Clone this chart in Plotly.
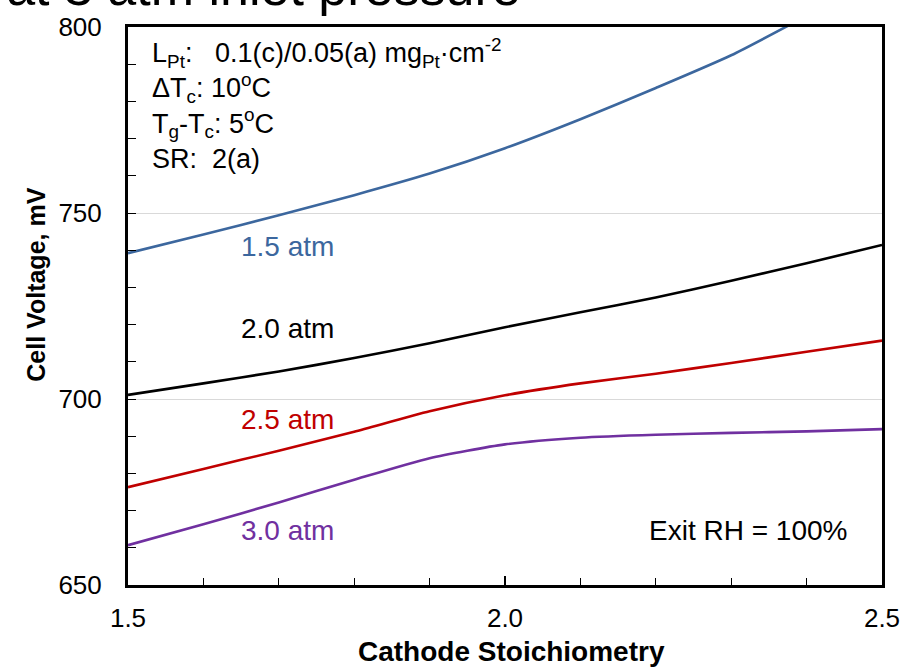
import plotly.graph_objects as go

# Cathode stoichiometry sweep
stoich = [1.5, 1.6, 1.7, 1.8, 1.9, 2.0, 2.1, 2.2, 2.3, 2.4, 2.5]

# Cell voltage (mV) at each inlet pressure
v_15atm = [739.2, 744.2, 749.4, 754.8, 760.6, 767.4, 775.2, 783.6, 792.4, 803.0, 814.0]
v_20atm = [701.1, 704.2, 707.4, 711.0, 715.0, 719.3, 723.3, 727.3, 731.8, 736.5, 741.4]
v_25atm = [676.3, 681.2, 686.1, 691.2, 696.7, 701.0, 704.2, 706.8, 709.7, 712.7, 715.7]
v_30atm = [660.7, 666.3, 672.2, 678.3, 684.1, 687.8, 689.6, 690.4, 690.9, 691.3, 691.9]

series = [
    ("1.5 atm", v_15atm, "#3C679E", 243),
    ("2.0 atm", v_20atm, "#000000", 326),
    ("2.5 atm", v_25atm, "#C00000", 418),
    ("3.0 atm", v_30atm, "#7030A0", 530),
]

# test conditions block
info_lines = [
    "L<sub>Pt</sub>:&nbsp;&nbsp; 0.1(c)/0.05(a) mg<sub>Pt</sub>·cm<sup>-2</sup>",
    "ΔT<sub>c</sub>: 10<sup>o</sup>C",
    "T<sub>g</sub>-T<sub>c</sub>: 5<sup>o</sup>C",
    "SR:&nbsp; 2(a)",
]

FONT = "Arial, Liberation Sans, sans-serif"
W, H = 912, 668
L, R, T, B = 128, 30, 22, 83

def px_x(p):
    return (p - L) / (W - L - R)

def px_y(p):
    return (H - B - p) / (H - T - B)

fig = go.Figure()
annotations = []
for name, vals, color, label_y in series:
    fig.add_trace(go.Scatter(x=stoich, y=vals, mode="lines", name=name,
                             line=dict(color=color, width=2.6, shape="spline", smoothing=0.6)))
    annotations.append(dict(text=name, x=px_x(239), y=px_y(label_y), xref="paper", yref="paper",
                            xanchor="left", yanchor="middle", showarrow=False,
                            font=dict(family=FONT, size=28, color=color)))

annotations.append(dict(text="<br>".join(info_lines), x=px_x(150), y=px_y(27), xref="paper", yref="paper",
                        xanchor="left", yanchor="top", align="left", showarrow=False,
                        font=dict(family=FONT, size=27, color="#000000")))

annotations.append(dict(text="Exit RH = 100%", x=px_x(849), y=px_y(530), xref="paper", yref="paper",
                        xanchor="right", yanchor="middle", showarrow=False,
                        font=dict(family=FONT, size=28, color="#000000")))

# slide heading running off the top edge
annotations.append(dict(text="Polarization at 3 atm inlet pressure", x=px_x(523), y=px_y(13),
                        xref="paper", yref="paper", xanchor="right", yanchor="bottom",
                        showarrow=False, font=dict(family=FONT, size=52, color="#000000")))

# axis titles
annotations.append(dict(text="<b>Cell Voltage, mV</b>", x=px_x(36), y=px_y(282), xref="paper", yref="paper",
                        xanchor="center", yanchor="middle", textangle=-90, showarrow=False,
                        font=dict(family=FONT, size=25, color="#000000")))
annotations.append(dict(text="<b>Cathode Stoichiometry</b>", x=px_x(511), y=px_y(652), xref="paper", yref="paper",
                        xanchor="center", yanchor="middle", showarrow=False,
                        font=dict(family=FONT, size=28, color="#000000")))

fig.update_layout(
    width=W, height=H,
    margin=dict(l=L, r=R, t=T, b=B),
    paper_bgcolor="white", plot_bgcolor="white",
    showlegend=False,
    annotations=annotations,
    font=dict(family=FONT, color="#000000"),
)

fig.update_xaxes(
    range=[1.5, 2.5], tickvals=[1.5, 2.0, 2.5], ticktext=["1.5", "2.0", "2.5"],
    ticks="inside", ticklen=9, tickwidth=1.5, tickcolor="#000000",
    minor=dict(dtick=0.1, tick0=1.5, ticks="inside", ticklen=7, tickwidth=1, tickcolor="#000000"),
    showgrid=False, zeroline=False,
    showline=True, linecolor="#000000", linewidth=3, mirror=True,
    tickfont=dict(family=FONT, size=26, color="#000000"), ticklabelstandoff=8,
)
fig.update_yaxes(
    range=[650, 800], tickvals=[650, 700, 750, 800],
    ticks="inside", ticklen=8, tickwidth=1, tickcolor="#000000",
    minor=dict(dtick=10, tick0=650, ticks="inside", ticklen=8, tickwidth=1, tickcolor="#000000"),
    showgrid=True, gridcolor="#D9D9D9", gridwidth=1, zeroline=False,
    showline=True, linecolor="#000000", linewidth=3, mirror=True,
    tickfont=dict(family=FONT, size=26, color="#000000"), ticklabelstandoff=18,
)

fig.write_html("out.html")
